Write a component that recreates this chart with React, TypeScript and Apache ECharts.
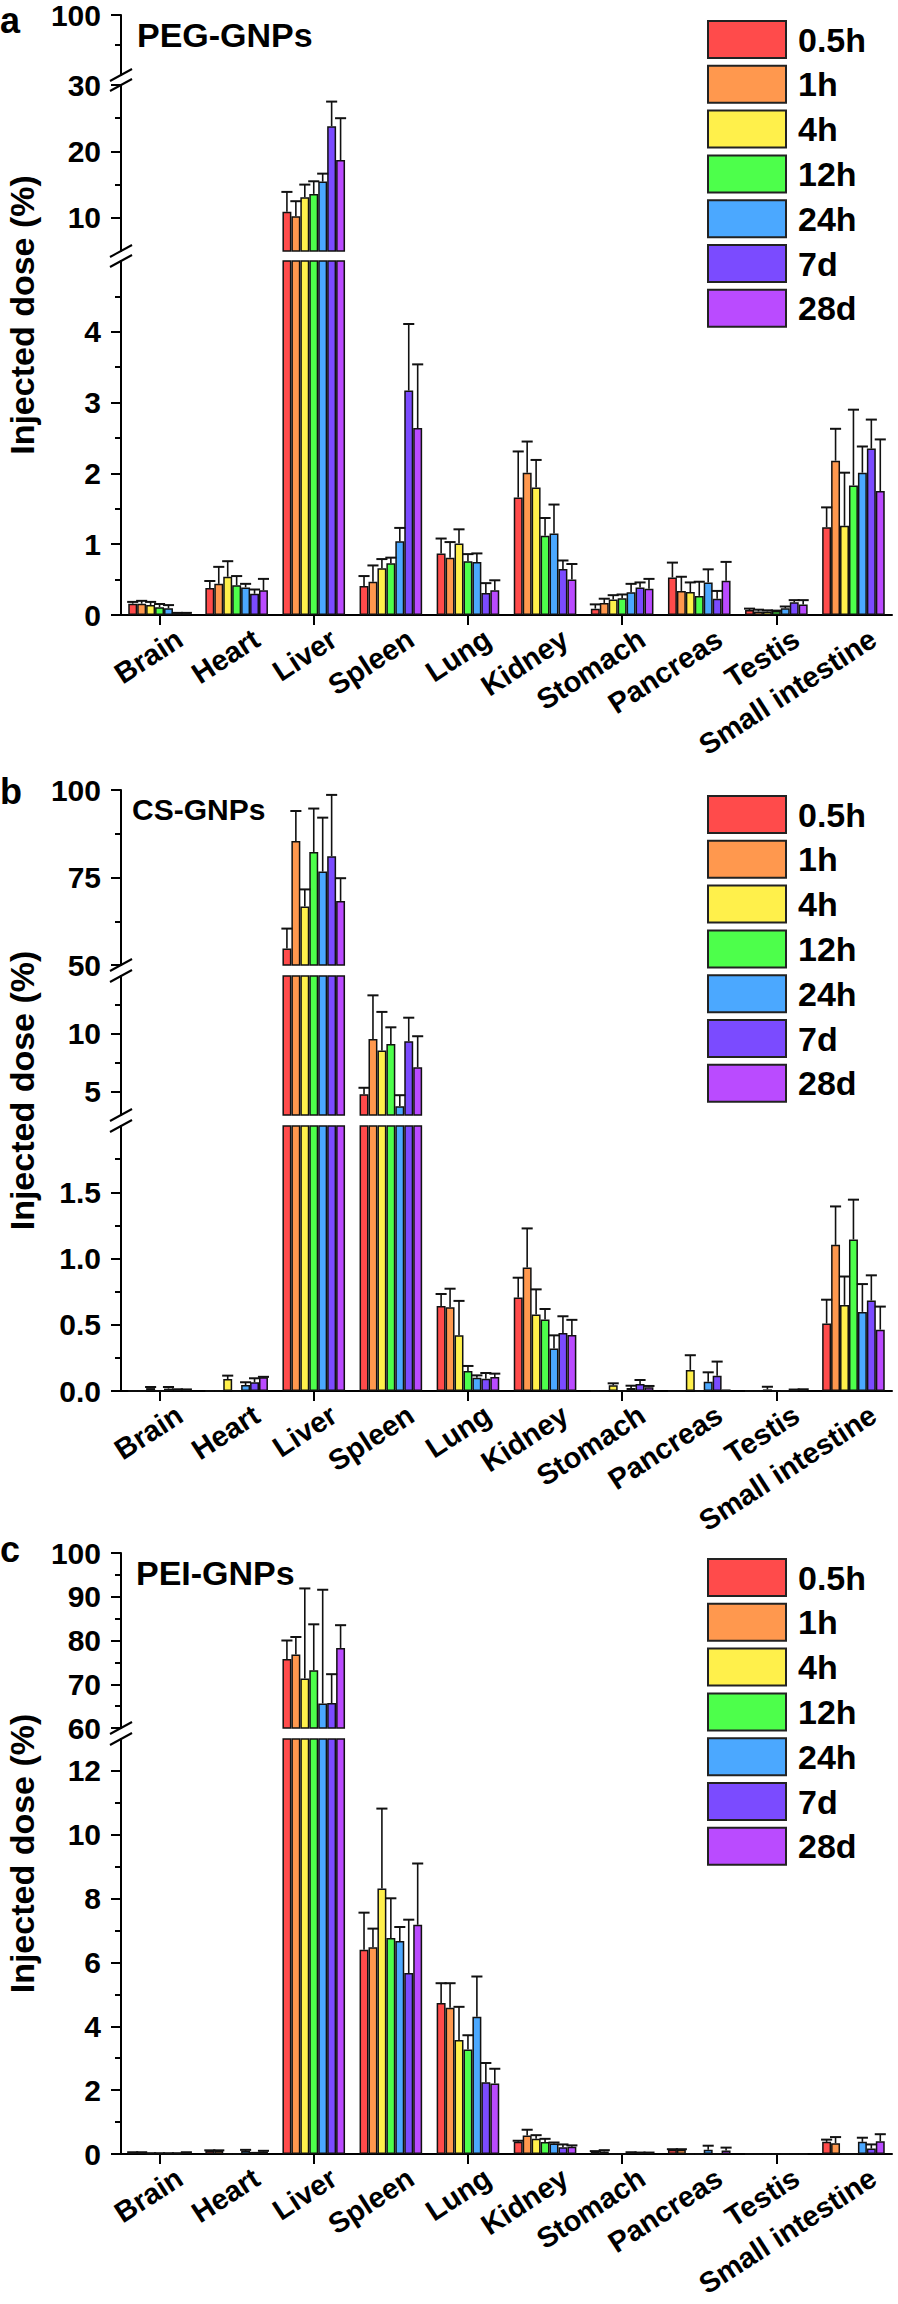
import React, { useEffect, useRef } from 'react';
import * as echarts from 'echarts';

const ORGANS = ['Brain', 'Heart', 'Liver', 'Spleen', 'Lung', 'Kidney', 'Stomach', 'Pancreas', 'Testis', 'Small intestine'];
const TIMES = ['0.5h', '1h', '4h', '12h', '24h', '7d', '28d'];
const COLORS = ['#FF4B4B', '#FF984E', '#FFF04B', '#4DFF4B', '#4BA8FF', '#7B4BFF', '#BA4BFF'];

// Panel a: PEG-GNPs, mean per time point (rows) across organs (columns)
const pegMeans = [
  [0.16, 0.38, 10.9, 0.41, 0.87, 1.66, 0.09, 0.53, 0.07, 1.24],
  [0.16, 0.44, 10.25, 0.47, 0.81, 2.01, 0.17, 0.34, 0.05, 2.18],
  [0.14, 0.54, 13.1, 0.66, 1.01, 1.8, 0.22, 0.325, 0.05, 1.26],
  [0.11, 0.42, 13.6, 0.73, 0.76, 1.12, 0.235, 0.27, 0.056, 1.83],
  [0.095, 0.39, 15.45, 1.04, 0.75, 1.15, 0.32, 0.46, 0.094, 2.01],
  [0.025, 0.3, 23.8, 3.17, 0.31, 0.65, 0.39, 0.23, 0.18, 2.35],
  [0.025, 0.35, 18.7, 2.64, 0.35, 0.5, 0.37, 0.485, 0.15, 1.75],
];
const pegSd = [
  [0.025, 0.1, 3.0, 0.14, 0.21, 0.65, 0.06, 0.21, 0.02, 0.28],
  [0.04, 0.24, 2.25, 0.23, 0.22, 0.44, 0.06, 0.2, 0.025, 0.45],
  [0.045, 0.22, 1.9, 0.13, 0.2, 0.39, 0.06, 0.135, 0.016, 0.75],
  [0.045, 0.13, 1.9, 0.08, 0.1, 0.25, 0.055, 0.2, 0.006, 1.07],
  [0.045, 0.05, 1.2, 0.19, 0.12, 0.41, 0.12, 0.185, 0.026, 0.37],
  [0.005, 0.06, 3.7, 0.94, 0.14, 0.12, 0.07, 0.11, 0.03, 0.41],
  [0.005, 0.16, 6.3, 0.9, 0.14, 0.22, 0.14, 0.265, 0.06, 0.73],
];

// Panel b: CS-GNPs
const csMeans = [
  [0, 0, 54.7, 4.8, 0.642, 0.705, 0, 0, 0, 0.509],
  [0, 0, 85.4, 9.57, 0.632, 0.932, 0, 0, 0, 1.103],
  [0.022, 0.09, 66.7, 8.56, 0.42, 0.577, 0.043, 0.159, 0.012, 0.65],
  [0, 0, 82.3, 9.14, 0.151, 0.539, 0, 0, 0, 1.144],
  [0.018, 0.045, 76.7, 3.76, 0.1, 0.32, 0.023, 0.07, 0.003, 0.597],
  [0.01, 0.066, 81.1, 9.37, 0.093, 0.438, 0.053, 0.116, 0.008, 0.683],
  [0.01, 0.103, 68.3, 7.13, 0.106, 0.423, 0.028, 0.012, 0.01, 0.463],
];
const csSd = [
  [0, 0, 5.7, 0.55, 0.09, 0.15, 0, 0, 0, 0.18],
  [0, 0, 8.6, 3.76, 0.14, 0.295, 0, 0, 0, 0.29],
  [0.008, 0.026, 4.9, 3.34, 0.26, 0.19, 0.015, 0.111, 0.02, 0.214],
  [0, 0, 12.4, 1.43, 0.038, 0.08, 0, 0, 0, 0.3],
  [0.012, 0.021, 15.4, 0.95, 0.018, 0.1, 0.017, 0.071, 0, 0.21],
  [0.003, 0.03, 17.5, 2.03, 0.043, 0.126, 0.03, 0.106, 0.003, 0.19],
  [0.002, 0.004, 6.5, 2.67, 0.025, 0.114, 0.01, 0, 0.003, 0.174],
];

// Panel c: PEI-GNPs
const peiMeans = [
  [0.05, 0.1, 75.8, 6.4, 4.73, 0.385, 0.08, 0.13, 0, 0.38],
  [0.05, 0.1, 76.8, 6.48, 4.58, 0.58, 0.08, 0.13, 0, 0.34],
  [0.02, 0, 71.3, 8.32, 3.57, 0.48, 0, 0, 0, 0],
  [0.02, 0, 73.2, 6.77, 3.27, 0.375, 0, 0, 0, 0],
  [0.02, 0.1, 65.6, 6.67, 4.3, 0.33, 0.05, 0.13, 0, 0.38],
  [0.02, 0.03, 65.7, 5.67, 2.25, 0.21, 0.04, 0, 0, 0.17],
  [0.05, 0.08, 78.3, 7.18, 2.21, 0.23, 0.04, 0.11, 0, 0.4],
];
const peiSd = [
  [0.005, 0.015, 4.2, 1.16, 0.62, 0.03, 0.01, 0.02, 0, 0.07],
  [0.005, 0.015, 4.0, 0.58, 0.77, 0.18, 0.04, 0.02, 0, 0.19],
  [0.005, 0, 20.6, 2.5, 1.04, 0.11, 0, 0, 0, 0],
  [0.005, 0, 10.5, 1.24, 0.45, 0.1, 0, 0, 0, 0],
  [0.005, 0.03, 26.0, 0.44, 1.26, 0.03, 0.005, 0.13, 0, 0.13],
  [0.005, 0.005, 6.6, 1.67, 0.6, 0.09, 0.005, 0, 0, 0.13],
  [0.005, 0.02, 5.2, 1.92, 0.46, 0.04, 0.005, 0.09, 0, 0.22],
];

// Tick values of the broken axes
const pegTopMajor = [100];
const pegTopMinor = [95];
const pegMidMajor = [10, 20, 30];
const pegMidMinor = [15, 25];
const pegLowMajor = [0, 1, 2, 3, 4];
const pegLowMinor = [0.5, 1.5, 2.5, 3.5, 4.5];
const csTopMajor = [50, 75, 100];
const csTopMinor = [62.5, 87.5];
const csMidMajor = [5, 10];
const csMidMinor = [7.5, 12.5];
const csLowMajor = [0, 0.5, 1, 1.5];
const csLowMinor = [0.25, 0.75, 1.25, 1.75];
const peiTopMajor = [60, 70, 80, 90, 100];
const peiTopMinor = [65, 75, 85, 95];
const peiLowMajor = [0, 2, 4, 6, 8, 10, 12];
const peiLowMinor = [1, 3, 5, 7, 9, 11];

const FONT = '"Liberation Sans", Arial, Helvetica, sans-serif';
const GRID_LEFT = 121;
const GRID_WIDTH = 771;
const BAR_FRAC = 0.116;
const LABEL_SHIFT = 20;

const PANELS = [
  {
    letter: 'a', title: 'PEG-GNPs', titleSize: 34, titleX: 137, titleY: 35, letterY: 20,
    means: pegMeans, sds: pegSd,
    segs: [
      { min: 90, max: 100, top: 15, height: 60, major: pegTopMajor, minor: pegTopMinor, dec: 0 },
      { min: 5, max: 30, top: 85, height: 166, major: pegMidMajor, minor: pegMidMinor, dec: 0 },
      { min: 0, max: 5, top: 261, height: 354, major: pegLowMajor, minor: pegLowMinor, dec: 0 },
    ],
  },
  {
    letter: 'b', title: 'CS-GNPs', titleSize: 30, titleX: 132, titleY: 809, letterY: 791,
    means: csMeans, sds: csSd,
    segs: [
      { min: 50, max: 100, top: 790, height: 175, major: csTopMajor, minor: csTopMinor, dec: 0 },
      { min: 3, max: 15, top: 976, height: 139, major: csMidMajor, minor: csMidMinor, dec: 0 },
      { min: 0, max: 2, top: 1126, height: 265, major: csLowMajor, minor: csLowMinor, dec: 1 },
    ],
  },
  {
    letter: 'c', title: 'PEI-GNPs', titleSize: 34, titleX: 136, titleY: 1573, letterY: 1549,
    means: peiMeans, sds: peiSd,
    segs: [
      { min: 60, max: 100, top: 1553, height: 175, major: peiTopMajor, minor: peiTopMinor, dec: 0 },
      { min: 0, max: 13, top: 1739, height: 415, major: peiLowMajor, minor: peiLowMinor, dec: 0 },
    ],
  },
];

function makeErr(min: number, max: number) {
  return (params: any, api: any) => {
    const c = api.value(0);
    const s = api.value(1);
    const m = api.value(2);
    const sd = api.value(3);
    if (!(sd > 0) || m < min || m >= max) return null;
    const hi = Math.min(m + sd, max);
    const p0 = api.coord([c, m]);
    const p1 = api.coord([c, hi]);
    const band = api.size([1, 0])[0];
    const bw = band * BAR_FRAC;
    const x = p0[0] + (s - 3) * bw;
    const children: any[] = [
      { type: 'line', shape: { x1: x, y1: p0[1], x2: x, y2: p1[1] }, style: { stroke: '#111', lineWidth: 1.6 } },
    ];
    if (m + sd <= max) {
      children.push({ type: 'line', shape: { x1: x - bw * 0.62, y1: p1[1], x2: x + bw * 0.62, y2: p1[1] }, style: { stroke: '#111', lineWidth: 2 } });
    }
    return { type: 'group', children };
  };
}

function buildOption() {
  const grid: any[] = [];
  const xAxis: any[] = [];
  const yAxis: any[] = [];
  const series: any[] = [];
  const graphic: any[] = [];
  const legend: any[] = [];

  PANELS.forEach((p) => {
    p.segs.forEach((seg, si) => {
      const gi = grid.length;
      const isBottom = si === p.segs.length - 1;
      grid.push({ left: GRID_LEFT, width: GRID_WIDTH, top: seg.top, height: seg.height, containLabel: false, outerBoundsMode: 'none' });
      xAxis.push({
        type: 'category', gridIndex: gi, data: ORGANS, show: isBottom,
        axisLine: { show: true, lineStyle: { color: '#000', width: 2 } },
        axisTick: { show: true, alignWithLabel: true, length: 10, lineStyle: { color: '#000', width: 2 } },
        axisLabel: { show: false },
        splitLine: { show: false },
      });
      const yi = yAxis.length;
      yAxis.push({
        type: 'value', gridIndex: gi, min: seg.min, max: seg.max, position: 'left',
        axisLine: { show: true, lineStyle: { color: '#000', width: 2 } },
        axisTick: { show: true, length: 10, customValues: seg.major, lineStyle: { color: '#000', width: 2 } },
        axisLabel: {
          show: true, customValues: seg.major, margin: 20, color: '#000', fontSize: 30, fontWeight: 'bold', fontFamily: FONT,
          formatter: (v: number) => v.toFixed(seg.dec),
        },
        splitLine: { show: false },
      });
      yAxis.push({
        type: 'value', gridIndex: gi, min: seg.min, max: seg.max, position: 'left',
        axisLine: { show: false },
        axisTick: { show: true, length: 6, customValues: seg.minor, lineStyle: { color: '#000', width: 2 } },
        axisLabel: { show: false },
        splitLine: { show: false },
      });
      TIMES.forEach((t, s) => {
        series.push({
          type: 'bar', name: t, xAxisIndex: gi, yAxisIndex: yi, data: p.means[s],
          barWidth: (BAR_FRAC * 100).toFixed(2) + '%', barGap: '0%', clip: true, silent: true,
          itemStyle: { color: COLORS[s], borderColor: '#111', borderWidth: 1.5 },
        });
      });
      const errData: number[][] = [];
      TIMES.forEach((t, s) => ORGANS.forEach((o, c) => errData.push([c, s, p.means[s][c], p.sds[s][c]])));
      series.push({
        type: 'custom', xAxisIndex: gi, yAxisIndex: yi, data: errData, encode: { x: 0, y: 2 },
        renderItem: makeErr(seg.min, seg.max), silent: true, z: 5,
      });

      if (isBottom) {
        // label-only axis: same category bands, shifted right so rotated labels end past each tick
        const li = grid.length;
        grid.push({ left: GRID_LEFT + LABEL_SHIFT, width: GRID_WIDTH, top: seg.top, height: seg.height, containLabel: false, outerBoundsMode: 'none' });
        xAxis.push({
          type: 'category', gridIndex: li, data: ORGANS,
          axisLine: { show: false }, axisTick: { show: false }, splitLine: { show: false },
          axisLabel: { interval: 0, rotate: 33, margin: 21, color: '#000', fontSize: 29, fontWeight: 'bold', fontFamily: FONT },
        });
        yAxis.push({ type: 'value', gridIndex: li, show: false, min: 0, max: 1 });
      } else {
        const yTop = seg.top + seg.height;
        const yBot = p.segs[si + 1].top;
        [yTop, yBot].forEach((yy) => {
          graphic.push({
            type: 'line', shape: { x1: GRID_LEFT - 11, y1: yy + 6, x2: GRID_LEFT + 11, y2: yy - 6 },
            style: { stroke: '#000', lineWidth: 2 }, z: 50,
          });
        });
      }
    });

    const first = p.segs[0];
    const last = p.segs[p.segs.length - 1];
    legend.push({
      data: TIMES.map((t) => ({ name: t, icon: 'rect' })),
      orient: 'vertical', left: 702, top: first.top, itemWidth: 78, itemHeight: 37, itemGap: 5.8,
      selectedMode: false,
      itemStyle: { borderColor: '#222', borderWidth: 2 },
      textStyle: { color: '#000', fontSize: 34, fontWeight: 'bold', fontFamily: FONT, padding: [0, 0, 0, 7], lineHeight: 37 },
    });
    graphic.push({
      type: 'text', x: 0, y: p.letterY, z: 60,
      style: { text: p.letter, fill: '#000', font: `bold 36px ${FONT}`, textAlign: 'left', textVerticalAlign: 'middle' },
    });
    graphic.push({
      type: 'text', x: p.titleX, y: p.titleY, z: 60,
      style: { text: p.title, fill: '#000', font: `bold ${p.titleSize}px ${FONT}`, textAlign: 'left', textVerticalAlign: 'middle' },
    });
    graphic.push({
      type: 'text', x: 22, y: (first.top + last.top + last.height) / 2, rotation: Math.PI / 2, z: 60,
      style: { text: 'Injected dose (%)', fill: '#000', font: `bold 34px ${FONT}`, textAlign: 'center', textVerticalAlign: 'middle' },
    });
  });

  return { animation: false, backgroundColor: '#fff', grid, xAxis, yAxis, series, legend, graphic };
}

export default function App() {
  const ref = useRef<HTMLDivElement>(null);
  useEffect(() => {
    if (!ref.current) return;
    const chart = echarts.init(ref.current, null, { renderer: 'svg', width: 898, height: 2304 });
    chart.setOption(buildOption() as any);
    return () => chart.dispose();
  }, []);
  return <div ref={ref} style={{ position: 'absolute', left: 0, top: 0, width: 898, height: 2304, background: '#fff' }} />;
}
